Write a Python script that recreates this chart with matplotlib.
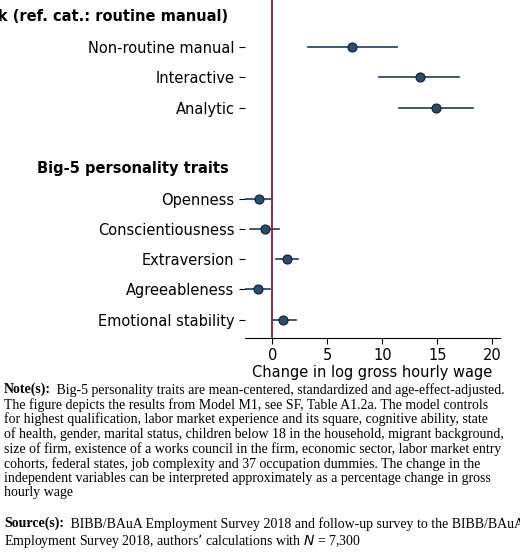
import matplotlib.pyplot as plt

labels = ["Main task (ref. cat.: routine manual)", "Non-routine manual", "Interactive", "Analytic", "",
          "Big-5 personality traits", "Openness", "Conscientiousness", "Extraversion",
          "Agreeableness", "Emotional stability"]
headers = [0, 5]
est = [None, 7.2, 13.4, 14.9, None, None, -1.2, -0.7, 1.3, -1.3, 1.0]
lo = [None, 3.2, 9.7, 11.5, None, None, -2.5, -2.0, 0.3, -2.5, 0.0]
hi = [None, 11.3, 17.0, 18.2, None, None, 0.0, 0.6, 2.3, -0.2, 2.1]
xticks = [0, 5, 10, 15, 20]

note = ("Big-5 personality traits are mean-centered, standardized and age-effect-adjusted.\n"
        "The figure depicts the results from Model M1, see SF, Table A1.2a. The model controls\n"
        "for highest qualification, labor market experience and its square, cognitive ability, state\n"
        "of health, gender, marital status, children below 18 in the household, migrant background,\n"
        "size of firm, existence of a works council in the firm, economic sector, labor market entry\n"
        "cohorts, federal states, job complexity and 37 occupation dummies. The change in the\n"
        "independent variables can be interpreted approximately as a percentage change in gross\n"
        "hourly wage")
source = ("BIBB/BAuA Employment Survey 2018 and follow-up survey to the BIBB/BAuA\n"
          "Employment Survey 2018, authors’ calculations with $N$ = 7,300")

W, H = 520, 557
fig = plt.figure(figsize=(W / 100, H / 100), dpi=100)
ax = fig.add_axes([245 / W, 1 - 338 / H, 255 / W, 338 / H])

for i in range(len(labels)):
    if est[i] is None:
        continue
    ax.plot([lo[i], hi[i]], [i, i], color="#1f3a5f", lw=1.2)
    ax.plot(est[i], i, "o", ms=6.5, mfc="#2c4a6e", mec="#0e1e33", mew=0.8)

ax.axvline(0, color="#8b1a3a", lw=1.3)
ax.set_ylim(10.6, -0.55)
ax.set_xlim(-2.5, 20.7)
ax.set_xticks(xticks)
ax.set_yticks([i for i in range(len(labels)) if i not in headers and labels[i]])
ax.set_yticklabels([labels[i] for i in range(len(labels)) if i not in headers and labels[i]], fontsize=10.5)
for h in headers:
    ax.text(-0.065, h, labels[h], transform=ax.get_yaxis_transform(), ha="right", va="center",
            fontsize=10.5, fontweight="bold")
ax.tick_params(axis="x", labelsize=10.5, length=4)
ax.tick_params(axis="y", length=4)
for s in ["top", "right"]:
    ax.spines[s].set_visible(False)
ax.spines["left"].set_visible(False)
ax.set_xlabel("Change in log gross hourly wage", fontsize=10.5, labelpad=1)

serif = "Liberation Serif"
fig.text(4 / W, 1 - 383 / H, "Note(s):", fontsize=10, family=serif, fontweight="bold", va="top")
fig.text(4 / W, 1 - 383 / H, "               " + note.split("\n")[0] + "\n" + "\n".join(note.split("\n")[1:]),
         fontsize=10, family=serif, va="top", linespacing=1.1)
fig.text(4 / W, 1 - 517 / H, "Source(s):", fontsize=10, family=serif, fontweight="bold", va="top")
fig.text(4 / W, 1 - 517 / H, "                   " + source, fontsize=10, family=serif, va="top",
         linespacing=1.1)

fig.savefig("out.png", dpi=100)
